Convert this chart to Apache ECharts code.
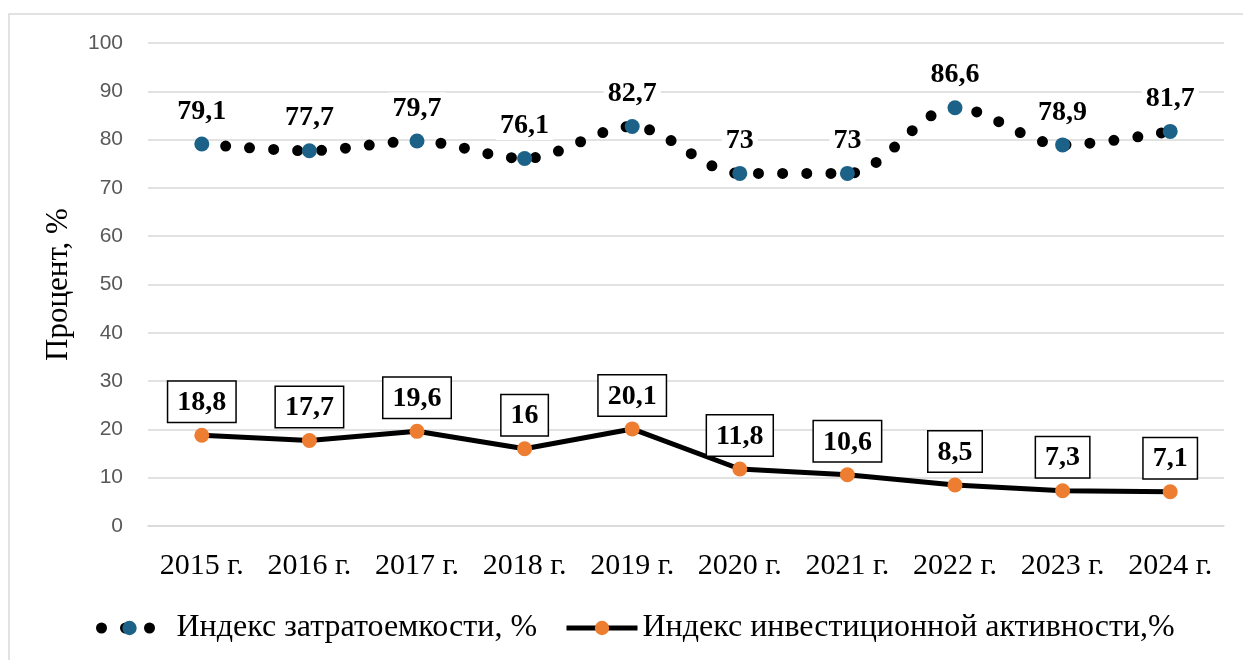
<!DOCTYPE html>
<html>
<head>
<meta charset="utf-8">
<script src="https://cdn.jsdelivr.net/npm/echarts@6/dist/echarts.min.js"></script>
<style>
  html, body { margin: 0; padding: 0; background: #fff; }
  #chart { width: 1243px; height: 660px; }
</style>
</head>
<body>
<div id="chart"></div>
<script>
const years = ['2015 г.', '2016 г.', '2017 г.', '2018 г.', '2019 г.', '2020 г.', '2021 г.', '2022 г.', '2023 г.', '2024 г.']
const costIndex = [79.1, 77.7, 79.7, 76.1, 82.7, 73, 73, 86.6, 78.9, 81.7]
const investIndex = [18.8, 17.7, 19.6, 16, 20.1, 11.8, 10.6, 8.5, 7.3, 7.1]
const yTicks = { min: 0, max: 100, interval: 10 }

const SERIF = 'Liberation Serif, Times New Roman, serif'
const SANS = 'Liberation Sans, Arial, sans-serif'

// запятая вместо точки
const fmt = (p) => String(p.value).replace('.', ',')

const chart = echarts.init(document.getElementById('chart'))

const option = {
  backgroundColor: '#fff',
  animation: false,
  graphic: [
    {
      type: 'rect',
      shape: { x: 9, y: 14, width: 1300, height: 700 },
      style: { fill: 'none', stroke: '#d9d9d9', lineWidth: 1.5 },
      silent: true,
    },
  ],
  grid: {
    left: 148,
    right: 19,
    top: 43,
    bottom: 134,
  },
  legend: [
    {
      data: ['Индекс затратоемкости, %'],
      left: 96,
      top: 612,
      padding: 0,
      itemWidth: 56,
      itemHeight: 18,
      lineStyle: { width: 11, type: [0, 24], cap: 'round' },
      textStyle: { fontFamily: SERIF, fontSize: 32, color: '#000', padding: [0, 0, 0, 14] },
    },
    {
      data: ['Индекс инвестиционной активности,%'],
      left: 564,
      top: 612,
      padding: 0,
      itemWidth: 71,
      itemHeight: 18,
      lineStyle: { width: 5 },
      textStyle: { fontFamily: SERIF, fontSize: 32, color: '#000' },
    },
  ],
  xAxis: {
    type: 'category',
    data: years,
    axisLine: { lineStyle: { color: '#d9d9d9', width: 1.5 } },
    axisTick: { show: false },
    axisLabel: {
      interval: 0,
      hideOverlap: false,
      fontFamily: SERIF,
      fontSize: 30,
      color: '#000',
      margin: 25,
    },
  },
  yAxis: {
    type: 'value',
    min: yTicks.min,
    max: yTicks.max,
    interval: yTicks.interval,
    name: 'Процент, %',
    nameLocation: 'middle',
    nameGap: 74,
    nameMoveOverlap: false,
    nameTextStyle: { fontFamily: SERIF, fontSize: 31, color: '#000' },
    axisLine: { show: false },
    axisTick: { show: false },
    axisLabel: {
      fontFamily: SANS,
      fontSize: 21,
      color: '#595959',
      margin: 25,
    },
    splitLine: { lineStyle: { color: '#d9d9d9', width: 1.5 } },
  },
  series: [
    {
      name: 'Индекс затратоемкости, %',
      type: 'line',
      data: costIndex,
      smooth: 0.33,
      symbol: 'circle',
      symbolSize: 15,
      itemStyle: { color: '#1c6288' },
      lineStyle: { color: '#000', width: 11, type: [0, 24], cap: 'round' },
      label: {
        show: true,
        position: 'top',
        distance: 11,
        formatter: fmt,
        fontFamily: SERIF,
        fontSize: 28,
        fontWeight: 'bold',
        color: '#000',
        backgroundColor: '#fff',
        padding: [2, 4, 0, 4],
      },
      z: 3,
    },
    {
      name: 'Индекс инвестиционной активности,%',
      type: 'line',
      data: investIndex,
      symbol: 'circle',
      symbolSize: 15,
      itemStyle: { color: '#ed7d31' },
      lineStyle: { color: '#000', width: 5 },
      label: {
        show: true,
        position: 'top',
        distance: 6,
        formatter: fmt,
        fontFamily: SERIF,
        fontSize: 28,
        fontWeight: 'bold',
        color: '#000',
        backgroundColor: '#fff',
        borderColor: '#000',
        borderWidth: 1.5,
        padding: [7, 9, 5, 9],
      },
      z: 2,
    },
  ],
}

chart.setOption(option)
</script>
</body>
</html>
